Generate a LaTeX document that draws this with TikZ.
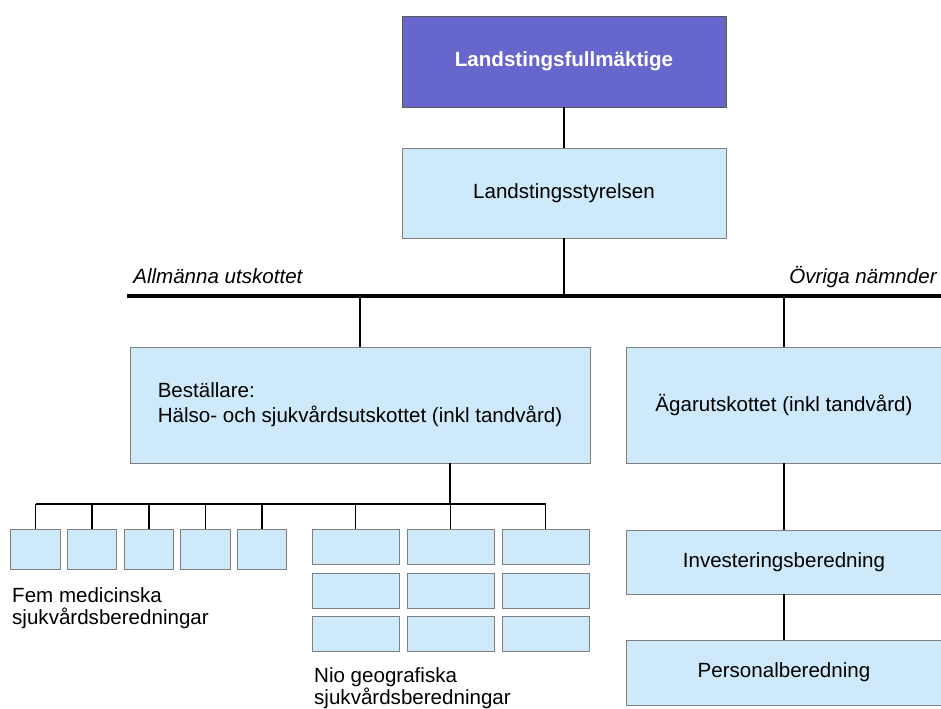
\documentclass[tikz,border=0pt]{standalone}
\usepackage{fontspec}
\setmainfont{Liberation Sans}
\usepackage{xcolor}
\usetikzlibrary{positioning, calc}

\definecolor{lila}{RGB}{102,102,204}
\definecolor{ljusbla}{RGB}{206,233,250}

\begin{document}
\begin{tikzpicture}[x=0.02cm, y=-0.02cm,
    every node/.style={font=\fontsize{11.7}{14}\selectfont},
    ruta/.style={rectangle, draw=gray, fill=ljusbla, inner sep=0pt},
    liten/.style={ruta, minimum width=0.99cm, minimum height=0.8cm},
    stor/.style={ruta, minimum width=1.74cm, minimum height=0.7cm},
    linje/.style={line width=0.8pt}]
        \useasboundingbox (0,0) rectangle (941,709);

        \node[ruta, fill=lila, draw=gray!70!black, minimum width=6.48cm, minimum height=1.82cm,
              text=white, font=\fontsize{11.7}{14}\selectfont\bfseries] (lf) at (564,61.5) {Landstingsfullmäktige};
        \node[ruta, minimum width=6.48cm, minimum height=1.8cm] (ls) at (564,193) {Landstingsstyrelsen};

        \coordinate (busV) at (127,296);
        \coordinate (busH) at (941,296);
        \draw[line width=2.3pt] (busV) -- (busH);
        \node[anchor=base west, inner sep=0pt, font=\fontsize{11.7}{14}\selectfont\itshape] (au) at (133,284) {Allmänna utskottet};
        \node[anchor=base east, inner sep=0pt, font=\fontsize{11.7}{14}\selectfont\itshape] (on) at (937,284) {Övriga nämnder};

        \node[ruta, minimum width=9.2cm, minimum height=2.32cm, align=left,
              font=\fontsize{11.7}{14.2}\selectfont] (hs) at (360,405) {Beställare:\\Hälso- och sjukvårdsutskottet (inkl tandvård)};
        \node[ruta, minimum width=6.32cm, minimum height=2.32cm] (ag) at (784,405) {Ägarutskottet (inkl tandvård)};
        \node[ruta, minimum width=6.32cm, minimum height=1.28cm] (ib) at (784,562) {Investeringsberedning};
        \node[ruta, minimum width=6.32cm, minimum height=1.3cm] (pb) at (784,672.5) {Personalberedning};

        \draw[linje] (lf) -- (ls);
        \draw[linje] (ls.south) -- (ls.south |- busV);
        \draw[linje] (hs.north |- busV) -- (hs.north);
        \draw[linje] (ag.north |- busV) -- (ag.north);
        \draw[linje] (ag) -- (ib);
        \draw[linje] (ib) -- (pb);

        % fem medicinska
        \foreach \i/\x in {1/35.5,2/92,3/149,4/205.5,5/262}
            \node[liten] (m\i) at (\x,549) {};

        % nio geografiska
        \foreach \r/\y in {1/546.5,2/590.5,3/633.5}
            \foreach \c/\x in {1/355.5,2/450.5,3/545.5}
                \node[stor] (g\r\c) at (\x,\y) {};

        \coordinate (sub) at (450,504);
        \draw[linje] (hs.south -| sub) -- (sub);
        \draw[linje] (m1.north |- sub) -- (g13.north |- sub);
        \foreach \n in {m1,m2,m3,m4,m5,g11,g12,g13}
            \draw[linje] (\n.north |- sub) -- (\n.north);

        \node[anchor=north west, align=left, font=\fontsize{11.7}{12.5}\selectfont] (fm) at (6,581) {Fem medicinska\\sjukvårdsberedningar};
        \node[anchor=north west, align=left, font=\fontsize{11.7}{12.8}\selectfont] (ng) at (308,661) {Nio geografiska\\sjukvårdsberedningar};

    \end{tikzpicture}
\end{document}
